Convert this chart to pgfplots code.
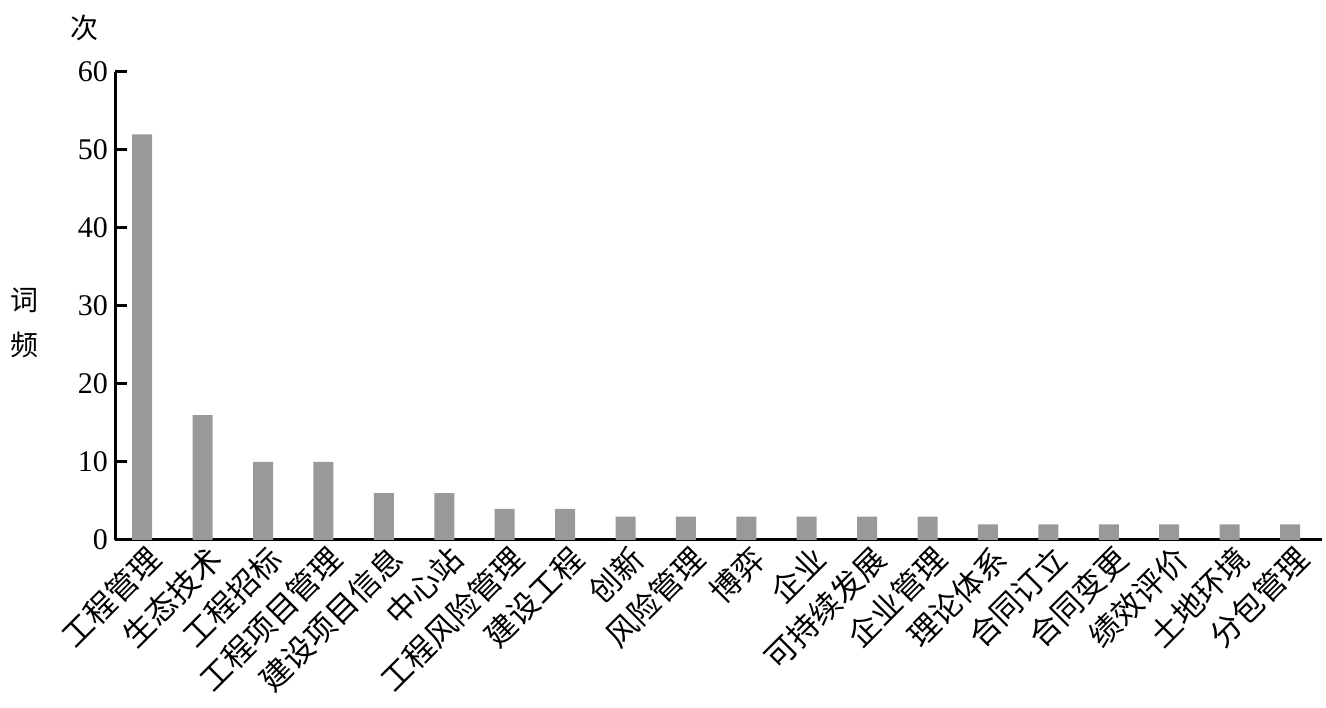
\documentclass[border=0pt]{standalone}
\usepackage{fontspec}
\setmainfont{Liberation Serif}
\newfontfamily\cjk{Noto Sans CJK SC}
\usepackage{pgfplots}
\pgfplotsset{compat=1.18}
\definecolor{barg}{RGB}{153,153,153}
\begin{document}
\begin{tikzpicture}
\begin{axis}[
  scale only axis, width=603.5pt, height=234pt,
  xmin=-0.45, xmax=19.53, ymin=0, ymax=60,
  axis x line=bottom, axis y line=left,
  axis line style={-, line width=1.5pt, black},
  xtick=data,
  xticklabels={工程管理,生态技术,工程招标,工程项目管理,建设项目信息,中心站,工程风险管理,建设工程,创新,风险管理,博弈,企业,可持续发展,企业管理,理论体系,合同订立,合同变更,绩效评价,土地环境,分包管理},
  xtick style={draw=none},
  ytick={0,10,...,60},
  every tick/.append style={line width=1.5pt, black},
  tick align=inside, major tick length=6pt,
  yticklabel style={font=\fontsize{15}{18}\selectfont},
  xticklabel style={font=\cjk\fontsize{15.5}{18}\selectfont, rotate=45, anchor=north east, inner sep=2pt, xshift=2pt},
  /pgf/number format/assume math mode=true,
  clip=false,
]
\addplot[ybar, bar width=10pt, fill=barg, draw=none] coordinates {
(0,52) (1,16) (2,10) (3,10) (4,6) (5,6) (6,4) (7,4) (8,3) (9,3)
(10,3) (11,3) (12,3) (13,3) (14,2) (15,2) (16,2) (17,2) (18,2) (19,2)};
\path (rel axis cs:-0.0953,1.1538) rectangle (rel axis cs:1.0033,-0.359);
\node[font=\cjk\fontsize{14}{16}\selectfont] at (rel axis cs:-0.0249,1.094) {次};
\node[font=\cjk\fontsize{14}{22.5}\selectfont, align=center] at (rel axis cs:-0.0746,0.465) {词\\频};
\end{axis}
\end{tikzpicture}
\end{document}
